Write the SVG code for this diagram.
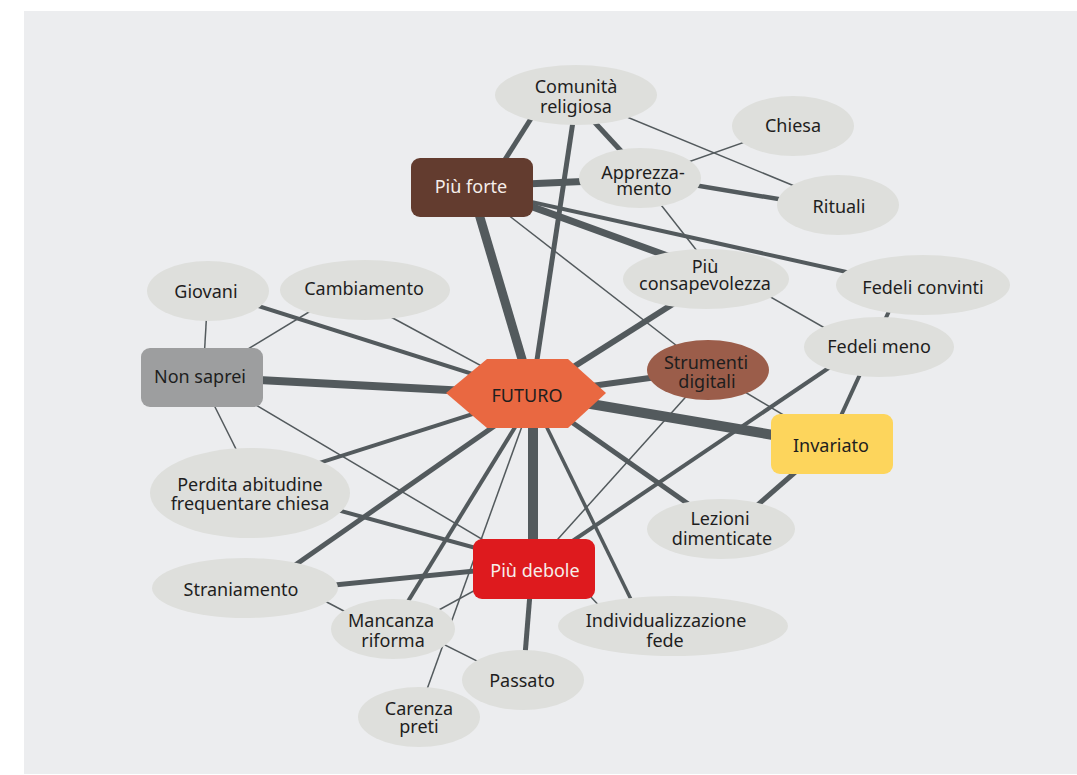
<svg xmlns="http://www.w3.org/2000/svg" width="1077" height="775" viewBox="0 0 1077 775">
<style>
.e{stroke:#535A5D;stroke-linecap:butt;fill:none}
.ell{fill:#DEDFDC}
text{font-family:"Noto Sans","Open Sans",sans-serif;font-size:18px;fill:#1E1E1E;text-anchor:middle}
.w{fill:#F6EEEA}
</style>
<rect x="0" y="0" width="1077" height="775" fill="#FFFFFF"/>
<rect x="24" y="11" width="1053" height="763" fill="#ECEDEF"/>
<g id="connectors">
<line class="e" x1="471" y1="187" x2="532" y2="393" stroke-width="9"/>
<line class="e" x1="577" y1="95" x2="532" y2="393" stroke-width="5"/>
<line class="e" x1="492" y1="180" x2="546" y2="95" stroke-width="5"/>
<line class="e" x1="500" y1="185" x2="640" y2="179" stroke-width="7"/>
<line class="e" x1="500" y1="195" x2="706" y2="270" stroke-width="7"/>
<line class="e" x1="500" y1="195" x2="923" y2="289" stroke-width="4"/>
<line class="e" x1="472" y1="187" x2="708" y2="370" stroke-width="1.5"/>
<line class="e" x1="574" y1="100" x2="646" y2="178" stroke-width="5"/>
<line class="e" x1="576" y1="96" x2="838" y2="204" stroke-width="1.5"/>
<line class="e" x1="640" y1="179" x2="793" y2="125" stroke-width="1.5"/>
<line class="e" x1="640" y1="176" x2="838" y2="209" stroke-width="4.5"/>
<line class="e" x1="640" y1="178" x2="719" y2="279" stroke-width="1.5"/>
<line class="e" x1="706" y1="260" x2="879" y2="359" stroke-width="1.5"/>
<line class="e" x1="526" y1="397" x2="706" y2="283" stroke-width="6"/>
<line class="e" x1="901" y1="285" x2="828" y2="444" stroke-width="4"/>
<line class="e" x1="879" y1="334" x2="534" y2="567" stroke-width="4"/>
<line class="e" x1="708" y1="370" x2="832" y2="444" stroke-width="1.5"/>
<line class="e" x1="710" y1="370" x2="531" y2="569" stroke-width="1.5"/>
<line class="e" x1="526" y1="395" x2="708" y2="370" stroke-width="6"/>
<line class="e" x1="526" y1="393" x2="832" y2="445" stroke-width="10"/>
<line class="e" x1="832" y1="440" x2="721" y2="537" stroke-width="5"/>
<line class="e" x1="526" y1="390" x2="721" y2="527" stroke-width="5"/>
<line class="e" x1="530" y1="393" x2="644" y2="626" stroke-width="3.5"/>
<line class="e" x1="533" y1="393" x2="533" y2="569" stroke-width="10"/>
<line class="e" x1="532" y1="569" x2="523" y2="680" stroke-width="5"/>
<line class="e" x1="575" y1="580" x2="605" y2="612" stroke-width="1.5"/>
<line class="e" x1="536" y1="393" x2="391" y2="629" stroke-width="4"/>
<line class="e" x1="534" y1="393" x2="417" y2="717" stroke-width="1.5"/>
<line class="e" x1="526" y1="404" x2="245" y2="600" stroke-width="5"/>
<line class="e" x1="526" y1="397" x2="250" y2="485" stroke-width="4"/>
<line class="e" x1="202" y1="377" x2="526" y2="394" stroke-width="8"/>
<line class="e" x1="208" y1="290" x2="526" y2="391" stroke-width="4"/>
<line class="e" x1="365" y1="303" x2="526" y2="390" stroke-width="1.5"/>
<line class="e" x1="203" y1="377" x2="208" y2="291" stroke-width="1.5"/>
<line class="e" x1="202" y1="377" x2="365" y2="278" stroke-width="1.5"/>
<line class="e" x1="200" y1="377" x2="258" y2="493" stroke-width="1.5"/>
<line class="e" x1="202" y1="373" x2="534" y2="570" stroke-width="1.5"/>
<line class="e" x1="250" y1="486" x2="534" y2="564" stroke-width="4"/>
<line class="e" x1="245" y1="594" x2="534" y2="565" stroke-width="5"/>
<line class="e" x1="300" y1="588" x2="380" y2="630" stroke-width="1.5"/>
<line class="e" x1="393" y1="635" x2="534" y2="558" stroke-width="1.5"/>
<line class="e" x1="393" y1="619" x2="523" y2="684" stroke-width="1.5"/>
</g>
<g id="comunita"><ellipse class="ell" cx="576" cy="95" rx="81" ry="30"/><text><tspan x="576" y="93">Comunità</tspan><tspan x="576" y="113">religiosa</tspan></text></g>
<g id="chiesa"><ellipse class="ell" cx="793" cy="126" rx="61" ry="30"/><text x="793" y="132">Chiesa</text></g>
<g id="apprezzamento"><ellipse class="ell" cx="640" cy="178" rx="61" ry="30"/><text><tspan x="643" y="179">Apprezza-</tspan><tspan x="644" y="195">mento</tspan></text></g>
<g id="rituali"><ellipse class="ell" cx="838" cy="205" rx="61" ry="30"/><text x="839" y="213">Rituali</text></g>
<g id="piuforte"><rect x="411" y="158" width="122" height="59" rx="9" fill="#633C2F"/><text class="w" x="471" y="193">Più forte</text></g>
<g id="consapevolezza"><ellipse class="ell" cx="706" cy="279" rx="83" ry="30"/><text><tspan x="705" y="273">Più</tspan><tspan x="705" y="290">consapevolezza</tspan></text></g>
<g id="fedeliconvinti"><ellipse class="ell" cx="923" cy="285" rx="87" ry="30"/><text x="923" y="294">Fedeli convinti</text></g>
<g id="fedelimeno"><ellipse class="ell" cx="879" cy="347" rx="75" ry="30"/><text x="879" y="353">Fedeli meno</text></g>
<g id="giovani"><ellipse class="ell" cx="208" cy="291" rx="61" ry="30"/><text x="206" y="298">Giovani</text></g>
<g id="cambiamento"><ellipse class="ell" cx="365" cy="290" rx="85" ry="30"/><text x="364" y="295">Cambiamento</text></g>
<g id="nonsaprei"><rect x="141" y="348" width="122" height="59" rx="9" fill="#9D9E9F"/><text x="200" y="383">Non saprei</text></g>
<g id="futuro"><polygon points="446,393 487,359 568,359 606,393 568,428 487,428" fill="#E96841"/><text x="527" y="402">FUTURO</text></g>
<g id="strumenti"><ellipse cx="708" cy="370" rx="61" ry="30" fill="#9B5D4A"/><text><tspan x="706" y="369">Strumenti</tspan><tspan x="707" y="388">digitali</tspan></text></g>
<g id="invariato"><rect x="771" y="414" width="122" height="60" rx="9" fill="#FDD55C"/><text x="831" y="452">Invariato</text></g>
<g id="perdita"><ellipse class="ell" cx="250" cy="493" rx="100" ry="45"/><text><tspan x="250" y="491">Perdita abitudine</tspan><tspan x="250" y="510">frequentare chiesa</tspan></text></g>
<g id="lezioni"><ellipse class="ell" cx="721" cy="529" rx="74" ry="30"/><text><tspan x="720" y="525">Lezioni</tspan><tspan x="722" y="545">dimenticate</tspan></text></g>
<g id="piudebole"><rect x="473" y="539" width="122" height="60" rx="9" fill="#DE1A1E"/><text class="w" x="535" y="577">Più debole</text></g>
<g id="straniamento"><ellipse class="ell" cx="245" cy="588" rx="93" ry="30"/><text x="241" y="596">Straniamento</text></g>
<g id="mancanza"><ellipse class="ell" cx="393" cy="629" rx="62" ry="30"/><text><tspan x="391" y="627">Mancanza</tspan><tspan x="393" y="647">riforma</tspan></text></g>
<g id="individualizzazione"><ellipse class="ell" cx="673" cy="626" rx="115" ry="30"/><text><tspan x="666" y="627">Individualizzazione</tspan><tspan x="665" y="647">fede</tspan></text></g>
<g id="passato"><ellipse class="ell" cx="523" cy="680" rx="61" ry="30"/><text x="522" y="687">Passato</text></g>
<g id="carenza"><ellipse class="ell" cx="419" cy="717" rx="61" ry="30"/><text><tspan x="419" y="715">Carenza</tspan><tspan x="419" y="733">preti</tspan></text></g>
</svg>
